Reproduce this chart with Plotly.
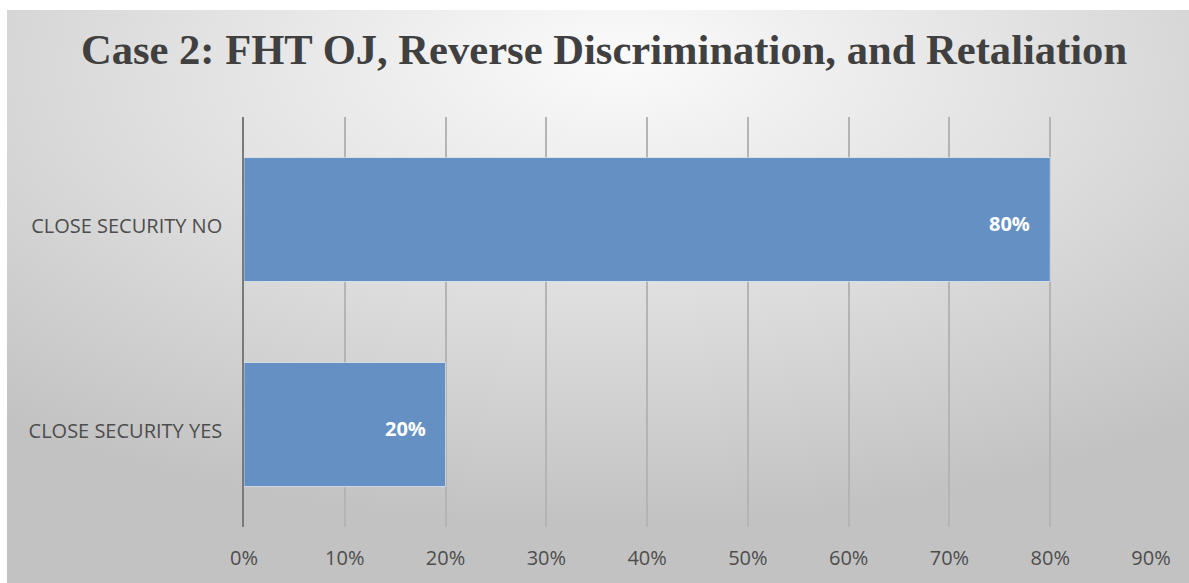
import plotly.graph_objects as go
import urllib.parse

# Chart data
categories = ["CLOSE SECURITY YES", "CLOSE SECURITY NO"]
values = [0.20, 0.80]
x_ticks = [0.0, 0.1, 0.2, 0.3, 0.4, 0.5, 0.6, 0.7, 0.8, 0.9]
x_tick_labels = ["0%", "10%", "20%", "30%", "40%", "50%", "60%", "70%", "80%", "90%"]
title_text = "Case 2: FHT OJ, Reverse Discrimination, and Retaliation"

W, H = 1189, 583
ML, MR, MT, MB = 244, 38, 117, 56
plot_w = W - ML - MR
plot_h = H - MT - MB

# Soft radial background behind the chart frame
bg_svg = (
    "<svg xmlns='http://www.w3.org/2000/svg' width='1182' height='573' "
    "preserveAspectRatio='none' viewBox='0 0 1182 573'>"
    "<defs><radialGradient id='g' cx='0.5' cy='0.12' r='0.78' fx='0.52' fy='0.08'>"
    "<stop offset='0' stop-color='#fbfbfb'/>"
    "<stop offset='0.45' stop-color='#e2e2e2'/>"
    "<stop offset='1' stop-color='#c2c2c2'/>"
    "</radialGradient></defs>"
    "<rect width='1182' height='573' fill='url(#g)'/></svg>"
)
bg_uri = "data:image/svg+xml;charset=utf-8," + urllib.parse.quote(bg_svg)

fig = go.Figure()
fig.add_trace(go.Bar(
    y=categories,
    x=values,
    orientation="h",
    marker=dict(color="#6590c4", line=dict(color="rgba(255,255,255,0.55)", width=1)),
    width=0.605,
    hoverinfo="skip",
))

# Value labels at the inner end of each bar
for cat, v in zip(categories, values):
    fig.add_annotation(
        x=v, y=cat, xref="x", yref="y",
        text=f"{round(v * 100)}%",
        showarrow=False, xanchor="right", xshift=-18, yshift=-4,
        font=dict(family="Open Sans", size=20, color="white", weight="bold"),
    )

fig.add_layout_image(
    source=bg_uri, xref="paper", yref="paper",
    x=(7 - ML) / plot_w, y=(H - MB - 10) / plot_h,
    sizex=(W - 7) / plot_w, sizey=(H - 10) / plot_h,
    xanchor="left", yanchor="top", sizing="stretch", layer="below",
)

fig.update_layout(
    width=W, height=H,
    margin=dict(l=ML, r=MR, t=MT, b=MB, pad=0),
    paper_bgcolor="white",
    plot_bgcolor="rgba(0,0,0,0)",
    showlegend=False,
    title=dict(
        text=title_text, x=604 / W, xanchor="center",
        y=1 - 49 / H, yanchor="middle", yref="container",
        font=dict(family="Liberation Serif", size=42.6, color="#404040", weight="bold"),
    ),
    xaxis=dict(
        range=[0, 0.9], tickvals=x_ticks, ticktext=x_tick_labels,
        showgrid=True, gridcolor="#b4b4b4", gridwidth=1.5,
        zeroline=False, showline=False, ticks="",
        ticklabelstandoff=17,
        tickfont=dict(family="Open Sans", size=20, color="#4d4d4d"),
        fixedrange=True,
    ),
    yaxis=dict(
        categoryorder="array", categoryarray=categories,
        showgrid=False, zeroline=False,
        showline=True, linecolor="#7a7a7a", linewidth=1.5,
        ticks="", ticklabelstandoff=16, ticklabelshift=6,
        tickfont=dict(family="Open Sans", size=20, color="#4d4d4d"),
        fixedrange=True,
    ),
    bargap=0.395,
)

fig.write_html("out.html", config={"displayModeBar": False})
